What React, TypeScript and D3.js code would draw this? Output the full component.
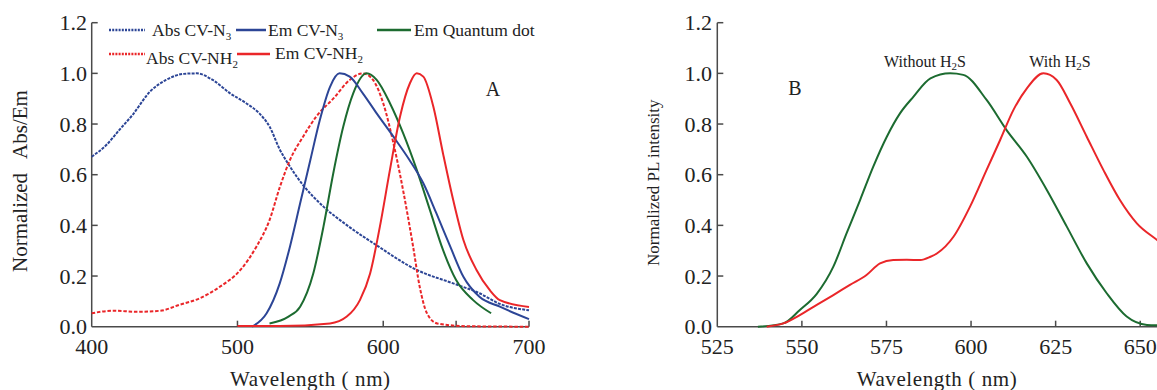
import React from 'react';
import * as d3 from 'd3';

type P = [number, number];

// Panel A series (wavelength nm, normalized value)
const absCVN3: P[] = [[400,0.671],[410,0.717],[419,0.777],[428,0.836],[440,0.928],[451,0.974],[463,0.998],[472,1.0],[483,0.974],[495,0.921],[506,0.882],[515,0.842],[522,0.79],[529,0.70],[536,0.632],[545,0.559],[559,0.474],[575,0.401],[595,0.323],[623,0.224],[648,0.171],[666,0.132],[680,0.09],[700,0.065]];
const absCVNH2: P[] = [[400,0.053],[415,0.063],[431,0.059],[447,0.063],[460,0.086],[474,0.112],[488,0.158],[502,0.224],[513,0.316],[522,0.421],[529,0.55],[536,0.658],[545,0.75],[554,0.829],[566,0.902],[577,0.974],[586,1.0],[593,0.974],[600,0.882],[607,0.724],[614,0.527],[620.5,0.316],[625,0.158],[630,0.053],[637,0.013],[657,0.002],[700,0.0]];
const emCVN3: P[] = [[510,0.0],[520,0.053],[529,0.171],[536,0.316],[543,0.487],[550,0.658],[556.5,0.816],[563.5,0.947],[570,1.0],[577,0.987],[586,0.921],[595.5,0.842],[607,0.75],[618,0.658],[627.5,0.566],[636.5,0.447],[646,0.316],[655,0.197],[666,0.118],[680,0.079],[700,0.03]];
const emCVNH2: P[] = [[500,0.003],[529,0.003],[563.5,0.013],[575,0.04],[584,0.105],[591,0.21],[597.7,0.395],[604.6,0.619],[611.5,0.829],[618.3,0.961],[623,1.0],[627.5,0.987],[634.4,0.868],[641,0.684],[648,0.5],[655,0.342],[664,0.224],[673,0.145],[680,0.105],[700,0.078]];
const emQD: P[] = [[522,0.013],[535,0.04],[543,0.079],[552,0.21],[559,0.395],[565.7,0.605],[572.6,0.79],[579.4,0.921],[588.6,1.0],[595.5,0.974],[604.6,0.882],[613.7,0.763],[623,0.619],[632,0.461],[641,0.303],[650,0.184],[661.7,0.105],[674,0.053]];

// Panel B series
const withoutH2S: P[] = [[537,0.0],[544.5,0.013],[549.4,0.066],[554.4,0.13],[559.3,0.237],[563.2,0.368],[567.2,0.5],[571.1,0.632],[575.1,0.75],[579,0.842],[583,0.908],[588,0.98],[593.8,1.0],[597.7,0.994],[604.6,0.895],[610.5,0.776],[616.5,0.671],[622.4,0.54],[628.3,0.395],[634.2,0.25],[640.1,0.132],[646,0.04],[652,0.007],[656,0.005]];
const withH2S: P[] = [[539.6,0.0],[544.5,0.013],[549.4,0.046],[554.4,0.086],[559.3,0.125],[564.2,0.165],[569.1,0.204],[573.1,0.25],[577,0.263],[581,0.264],[585,0.263],[588,0.276],[590,0.29],[594.8,0.355],[599.7,0.474],[604.6,0.619],[608.6,0.737],[612.5,0.855],[616.5,0.941],[621.4,1.0],[625.3,0.974],[629.3,0.882],[634.2,0.75],[639.1,0.619],[644,0.5],[649,0.408],[655,0.342],[658,0.31]];

const yTicks = [0, 0.2, 0.4, 0.6, 0.8, 1.0, 1.2];
const aXLabels = [400, 500, 600, 700];
const aXMarks = [500, 600, 650, 700];
const bXLabels = [525, 550, 575, 600, 625, 650];
const bXMarks = [550, 575, 600, 625, 650];

const BLUE = '#2c4596';
const RED = '#ea2629';
const GREEN = '#1c6b30';
const AXIS = '#4a4a4a';
const TXT = '#222';
const FONT = '"Liberation Serif", "Times New Roman", serif';

export default function App() {
  const y = d3.scaleLinear().domain([0, 1.2]).range([326.7, 22.7]);
  const xA = d3.scaleLinear().domain([400, 700]).range([91.7, 529]);
  const xB = d3.scaleLinear().domain([525, 675]).range([717.3, 1224.8]);

  const lineA = d3.line<P>().x(d => xA(d[0])).y(d => y(d[1])).curve(d3.curveMonotoneX);
  const lineB = d3.line<P>().x(d => xB(d[0])).y(d => y(d[1])).curve(d3.curveMonotoneX);

  const yAxis = (x0: number, labelRight: number) => (
    <g>
      <line x1={x0} x2={x0} y1={y(1.2)} y2={y(0)} stroke={AXIS} strokeWidth={1.5} />
      {yTicks.map(t => (
        <g key={t}>
          {t > 0 && <line x1={x0} x2={x0 + 6} y1={y(t)} y2={y(t)} stroke={AXIS} strokeWidth={1.5} />}
          <text x={labelRight} y={y(t)} dy="0.35em" textAnchor="end" fontSize={22} fill={TXT}>{t.toFixed(1)}</text>
        </g>
      ))}
    </g>
  );

  return (
    <svg width={1157} height={390} style={{ position: 'absolute', left: 0, top: 0, background: '#fff' }} fontFamily={FONT}>
      <rect width={1157} height={390} fill="#fff" />
      {/* Panel A */}
      {yAxis(xA(400), 87)}
      <line x1={xA(400)} x2={xA(700)} y1={y(0)} y2={y(0)} stroke={AXIS} strokeWidth={1.5} />
      {aXMarks.map(t => <line key={t} x1={xA(t)} x2={xA(t)} y1={y(0)} y2={y(0) - 6} stroke={AXIS} strokeWidth={1.5} />)}
      {aXLabels.map(t => <text key={t} x={xA(t)} y={354} textAnchor="middle" fontSize={22} fill={TXT}>{t}</text>)}
      <text x={(xA(400) + xA(700)) / 2} y={386} textAnchor="middle" fontSize={21} letterSpacing={0.6} fill={TXT}>Wavelength ( nm)</text>
      <text transform="translate(27,272) rotate(-90)" textAnchor="start" fontSize={21} fill={TXT}>Normalized<tspan dx={14}>Abs/Em</tspan></text>
      <text x={493} y={96} textAnchor="middle" fontSize={20} fill={TXT}>A</text>

      <g fill="none" strokeWidth={2}>
        <path d={lineA(absCVN3)!} stroke={BLUE} strokeDasharray="3,1.2" />
        <path d={lineA(absCVNH2)!} stroke={RED} strokeDasharray="3.5,1.8" />
        <path d={lineA(emQD)!} stroke={GREEN} />
        <path d={lineA(emCVN3)!} stroke={BLUE} />
        <path d={lineA(emCVNH2)!} stroke={RED} />
      </g>

      {/* Legend A */}
      <g fontSize={17.5} fill={TXT}>
        <line x1={109} x2={145} y1={30} y2={30} stroke={BLUE} strokeWidth={2.5} strokeDasharray="2,1.2" />
        <text x={152} y={36}>Abs CV-N<tspan dy={4} fontSize={11}>3</tspan></text>
        <line x1={236} x2={266} y1={30} y2={30} stroke={BLUE} strokeWidth={2.5} />
        <text x={268} y={36}>Em CV-N<tspan dy={4} fontSize={11}>3</tspan></text>
        <line x1={377} x2={411} y1={30} y2={30} stroke={GREEN} strokeWidth={2.5} />
        <text x={414} y={36}>Em Quantum dot</text>
        <line x1={109} x2={145} y1={54} y2={54} stroke={RED} strokeWidth={2.5} strokeDasharray="2,1.2" />
        <text x={146} y={64}>Abs CV-NH<tspan dy={4} fontSize={11}>2</tspan></text>
        <line x1={237} x2={270} y1={54} y2={54} stroke={RED} strokeWidth={2.5} />
        <text x={275} y={59}>Em CV-NH<tspan dy={4} fontSize={11}>2</tspan></text>
      </g>

      {/* Panel B */}
      {yAxis(xB(525), 712)}
      <line x1={xB(525)} x2={xB(675)} y1={y(0)} y2={y(0)} stroke={AXIS} strokeWidth={1.5} />
      {bXMarks.map(t => <line key={t} x1={xB(t)} x2={xB(t)} y1={y(0)} y2={y(0) - 6} stroke={AXIS} strokeWidth={1.5} />)}
      {bXLabels.map(t => <text key={t} x={xB(t)} y={354} textAnchor="middle" fontSize={22} fill={TXT}>{t}</text>)}
      <text x={937} y={386} textAnchor="middle" fontSize={21} letterSpacing={0.6} fill={TXT}>Wavelength ( nm)</text>
      <text transform="translate(659,266) rotate(-90)" textAnchor="start" fontSize={17} fill={TXT}>Normalized PL intensity</text>
      <text x={795} y={95} textAnchor="middle" fontSize={20} fill={TXT}>B</text>
      <text x={925} y={67} textAnchor="middle" fontSize={16} fill={TXT}>Without H<tspan dy={3} fontSize={11}>2</tspan><tspan dy={-3}>S</tspan></text>
      <text x={1060} y={67} textAnchor="middle" fontSize={16} fill={TXT}>With H<tspan dy={3} fontSize={11}>2</tspan><tspan dy={-3}>S</tspan></text>
      <g fill="none" strokeWidth={2}>
        <path d={lineB(withoutH2S)!} stroke={GREEN} />
        <path d={lineB(withH2S)!} stroke={RED} />
      </g>
    </svg>
  );
}
